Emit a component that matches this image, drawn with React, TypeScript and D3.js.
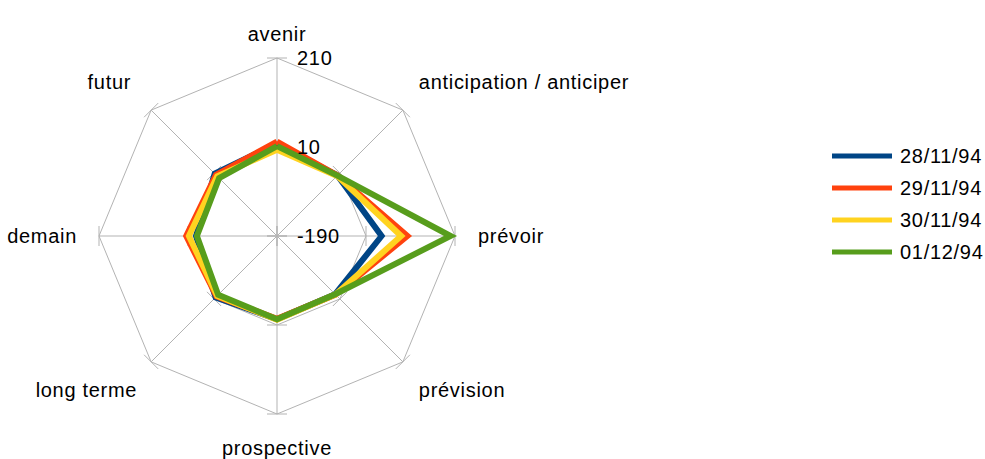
import React from "react";
import * as d3 from "d3";

const categories = [
  "avenir",
  "anticipation / anticiper",
  "prévoir",
  "prévision",
  "prospective",
  "long terme",
  "demain",
  "futur",
];

const seriesNames = ["28/11/94", "29/11/94", "30/11/94", "01/12/94"];
const seriesColors = ["#004586", "#ff420e", "#ffd320", "#579d1c"];

const s28 = [18, 2, 45, -5, -3, 5, -8, 8];
const s29 = [22, 2, 103, -4, -4, 2, 14, 4];
const s30 = [4, 1, 89, -4, -2, 0, 8, 0];
const s01 = [12, 2, 200, -5, -3, -3, -10, -6];

const seriesValues = [s28, s29, s30, s01];
const radialTicks = [-190, 10, 210];

const W = 985;
const H = 459;
const cx = 277;
const cy = 236;
const R = 178;
const FONT = "'Liberation Sans', Arial, sans-serif";

export default function App() {
  const r = d3.scaleLinear().domain([-190, 210]).range([0, R]);
  const n = categories.length;
  const angle = (i: number) => (i / n) * 2 * Math.PI; // 0 = up, clockwise
  const pt = (i: number, rad: number): [number, number] => [
    cx + rad * Math.sin(angle(i)),
    cy - rad * Math.cos(angle(i)),
  ];

  const grid = radialTicks.slice(1).map((t) => {
    const pts = categories.map((_, i) => pt(i, r(t)));
    return d3.line()([...pts, pts[0]]) as string;
  });

  const tickMarks: { x1: number; y1: number; x2: number; y2: number }[] = [];
  categories.forEach((_, i) => {
    radialTicks.forEach((t) => {
      const [x, y] = pt(i, r(t));
      const a = angle(i);
      const px = Math.cos(a) * 10;
      const py = Math.sin(a) * 10;
      tickMarks.push({ x1: x - px, y1: y - py, x2: x + px, y2: y + py });
    });
  });

  const labelPos = (i: number) => {
    const [x, y] = pt(i, R);
    const s = Math.sin(angle(i));
    const c = Math.cos(angle(i));
    let anchor: "start" | "middle" | "end" = "middle";
    let dx = 0;
    let dy = 0;
    if (Math.abs(s) < 0.01) {
      dy = c > 0 ? -24 : 34;
    } else if (Math.abs(c) < 0.01) {
      anchor = s > 0 ? "start" : "end";
      dx = s > 0 ? 23 : -22;
    } else {
      anchor = s > 0 ? "start" : "end";
      dx = s > 0 ? 16 : c > 0 ? -20 : -14;
      dy = c > 0 ? -28 : 28;
    }
    return { x: x + dx, y: y + dy, anchor };
  };

  const lineGen = d3.line();

  return (
    <svg
      width={W}
      height={H}
      style={{ position: "absolute", left: 0, top: 0, background: "#fff" }}
      fontFamily={FONT}
    >
      <rect width={W} height={H} fill="#fff" />
      {categories.map((_, i) => {
        const [x, y] = pt(i, R);
        return <line key={"ax" + i} x1={cx} y1={cy} x2={x} y2={y} stroke="#b3b3b3" strokeWidth={1} />;
      })}
      {grid.map((d, i) => (
        <path key={"g" + i} d={d} fill="none" stroke="#b3b3b3" strokeWidth={1} />
      ))}
      {tickMarks.map((t, i) => (
        <line key={"t" + i} {...t} stroke="#b3b3b3" strokeWidth={1} />
      ))}
      {seriesValues.map((vals, si) => {
        const pts = vals.map((v, i) => pt(i, r(v)));
        return (
          <path
            key={"s" + si}
            d={lineGen([...pts, pts[0]]) as string}
            fill="none"
            stroke={seriesColors[si]}
            strokeWidth={6}
            strokeLinejoin="miter"
          />
        );
      })}
      {radialTicks.map((t) => (
        <text
          key={"rt" + t}
          x={cx + 20}
          y={cy - r(t)}
          dy="0.35em"
          fontSize={20}
          letterSpacing={0.7}
          fill="#000"
        >
          {t}
        </text>
      ))}
      {categories.map((c, i) => {
        const p = labelPos(i);
        return (
          <text
            key={"c" + i}
            x={p.x}
            y={p.y}
            dy="0.35em"
            textAnchor={p.anchor}
            fontSize={20}
            letterSpacing={0.7}
            fill="#000"
          >
            {c}
          </text>
        );
      })}
      {seriesNames.map((name, i) => {
        const y = 156 + i * 32;
        return (
          <g key={"l" + i}>
            <line x1={832} x2={892} y1={y} y2={y} stroke={seriesColors[i]} strokeWidth={5} />
            <text x={900} y={y} dy="0.35em" fontSize={20} letterSpacing={0.7} fill="#000">
              {name}
            </text>
          </g>
        );
      })}
    </svg>
  );
}
